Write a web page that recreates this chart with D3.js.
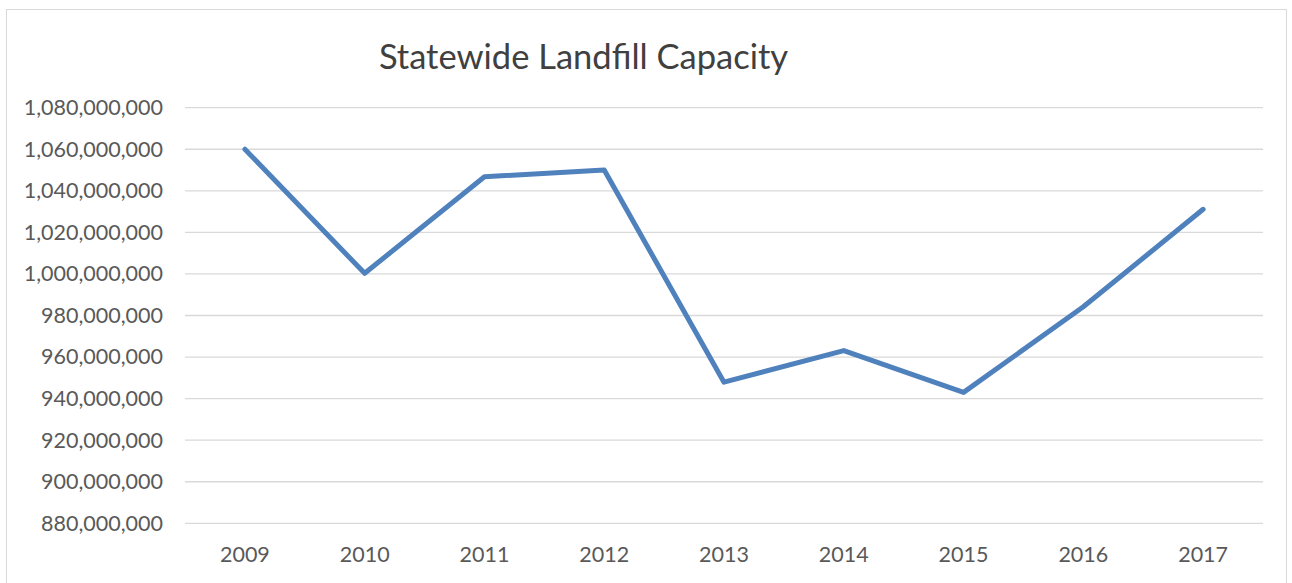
<!DOCTYPE html>
<meta charset="utf-8">
<style>
body { margin: 0; background: #fff; }
.grid line { stroke: #d9d9d9; stroke-width: 1.3px; }
.axis text { fill: #595959; font-family: Lato, "Open Sans", sans-serif; font-size: 21.5px; }
.title { fill: #404040; font-family: Lato, "Open Sans", sans-serif; font-size: 34.5px; }
.line { fill: none; stroke: #4f81bd; stroke-width: 5px; stroke-linejoin: round; stroke-linecap: round; }
</style>
<body>
<script src="https://d3js.org/d3.v7.min.js"></script>
<script>

// data
var years = ["2009", "2010", "2011", "2012", "2013", "2014", "2015", "2016", "2017"];
var capacity = [1060000000, 1000300000, 1046800000, 1050000000, 947900000, 963100000, 943000000, 984200000, 1031100000];
var yTicks = [880000000, 900000000, 920000000, 940000000, 960000000, 980000000, 1000000000, 1020000000, 1040000000, 1060000000, 1080000000];

var W = 1292, H = 583;
var margin = {top: 107.7, right: 29, bottom: 59.7, left: 185};
var width = W - margin.left - margin.right,
    height = H - margin.top - margin.bottom;

var svg = d3.select("body").append("svg")
    .attr("width", W)
    .attr("height", H);

// chart border
svg.append("rect")
    .attr("x", 6.5).attr("y", 9.5)
    .attr("width", 1280).attr("height", 590)
    .attr("fill", "#fff")
    .attr("stroke", "#d9d9d9")
    .attr("stroke-width", 1);

var g = svg.append("g")
    .attr("transform", "translate(" + margin.left + "," + margin.top + ")");

var x = d3.scaleBand().domain(years).range([0, width]);
var y = d3.scaleLinear().domain([880000000, 1080000000]).range([height, 0]);

// gridlines
g.append("g")
    .attr("class", "grid")
  .selectAll("line")
  .data(yTicks)
  .enter().append("line")
    .attr("x1", 0)
    .attr("x2", width)
    .attr("y1", function(d) { return y(d); })
    .attr("y2", function(d) { return y(d); });

// y axis
var yAxis = d3.axisLeft(y)
    .tickValues(yTicks)
    .tickFormat(d3.format(","))
    .tickSize(0)
    .tickPadding(22);

g.append("g")
    .attr("class", "axis axis--y")
    .call(yAxis)
    .call(function(s) { s.select(".domain").remove(); });

// x axis
var xAxis = d3.axisBottom(x)
    .tickSize(0)
    .tickPadding(23);

g.append("g")
    .attr("class", "axis axis--x")
    .attr("transform", "translate(0," + height + ")")
    .call(xAxis)
    .call(function(s) { s.select(".domain").remove(); });

// line
var valueline = d3.line()
    .x(function(d, i) { return x(years[i]) + x.bandwidth() / 2; })
    .y(function(d) { return y(d); });

g.append("path")
    .datum(capacity)
    .attr("class", "line")
    .attr("d", valueline);

// title
svg.append("text")
    .attr("class", "title")
    .attr("x", 583.5)
    .attr("y", 68.5)
    .attr("text-anchor", "middle")
    .text("Statewide Landfill Capacity");

</script>
</body>
